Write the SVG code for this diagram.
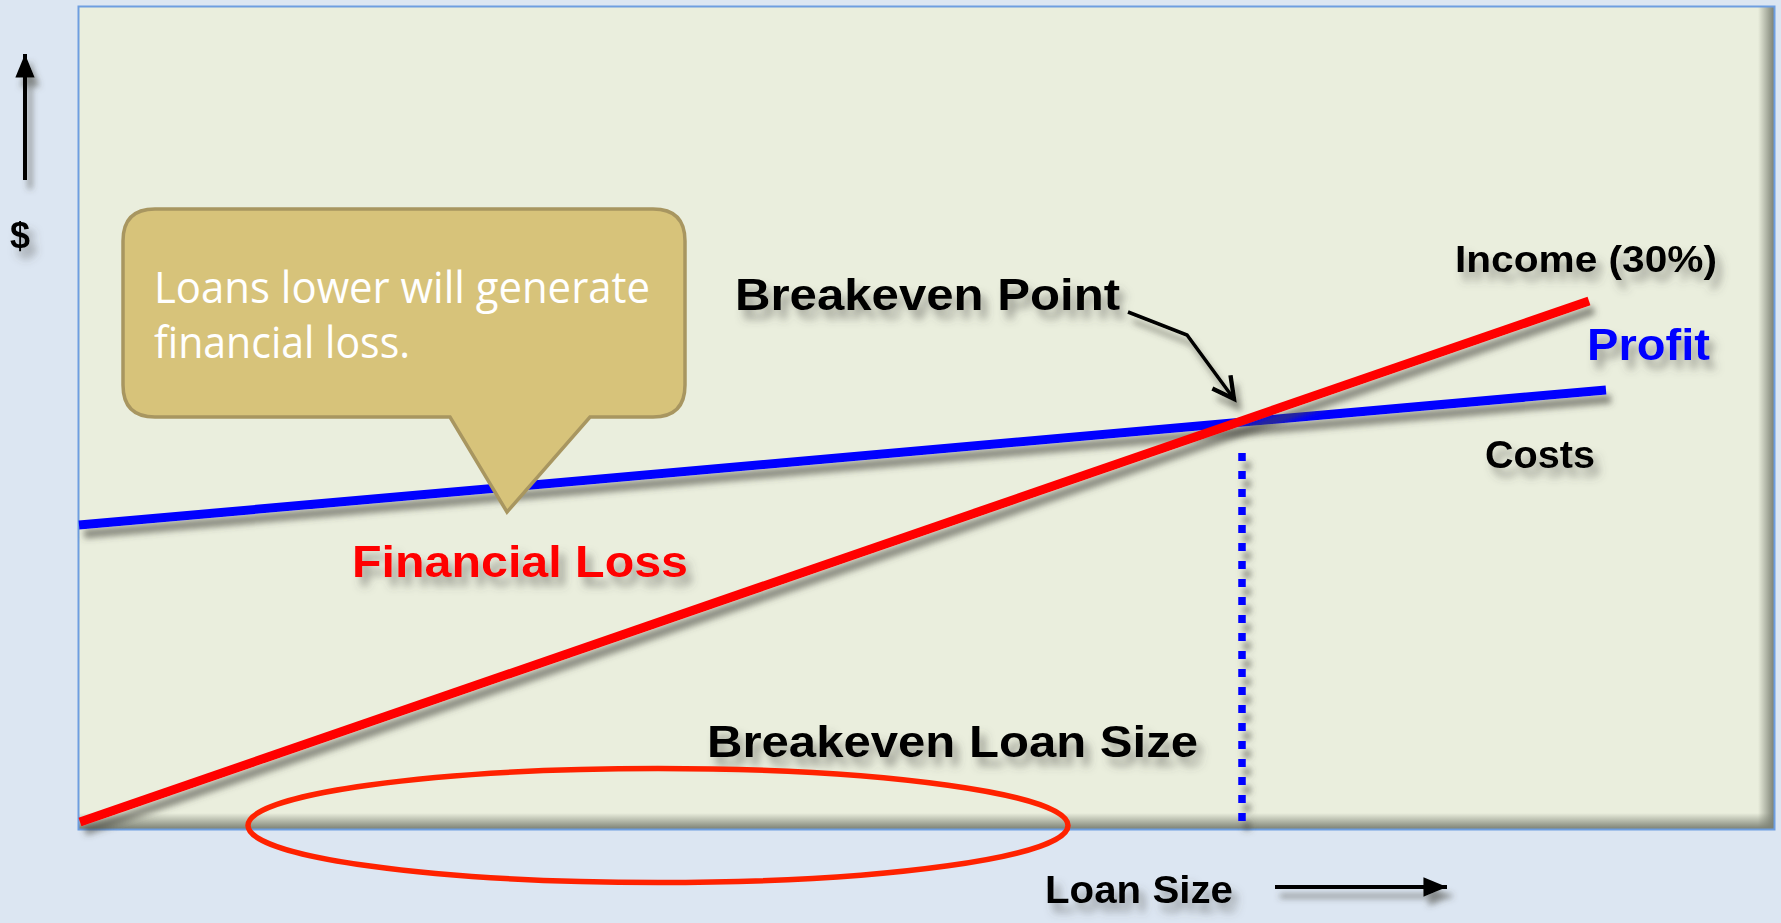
<svg xmlns="http://www.w3.org/2000/svg" width="1781" height="923" viewBox="0 0 1781 923">
  <style>
    .lbl { font-family: "Liberation Sans", Arial, sans-serif; font-weight: bold; fill: #000; }
    .callout-text { font-family: "Open Sans", "Noto Sans", sans-serif; fill: #FFFFFF; font-size: 44px; }
    .sh { filter: url(#shadow); }
    .tsh { filter: url(#tshadow); }
  </style>
  <defs>
    <filter id="shadow" filterUnits="userSpaceOnUse" x="0" y="0" width="1781" height="923">
      <feDropShadow dx="5" dy="9" stdDeviation="3" flood-color="#4a4a40" flood-opacity="0.6"/>
    </filter>
    <filter id="tshadow" filterUnits="userSpaceOnUse" x="0" y="0" width="1781" height="923">
      <feDropShadow dx="6" dy="9" stdDeviation="4" flood-color="#505048" flood-opacity="0.5"/>
    </filter>
    <linearGradient id="gRight" x1="0" y1="0" x2="1" y2="0">
      <stop offset="0" stop-color="#7c8174" stop-opacity="0"/>
      <stop offset="1" stop-color="#7c8174" stop-opacity="1"/>
    </linearGradient>
    <linearGradient id="gBottom" x1="0" y1="0" x2="0" y2="1">
      <stop offset="0" stop-color="#7c8174" stop-opacity="0"/>
      <stop offset="1" stop-color="#7c8174" stop-opacity="1"/>
    </linearGradient>
    <marker id="openHead" markerUnits="userSpaceOnUse" markerWidth="30" markerHeight="30" viewBox="-20 -12 24 24" refX="0" refY="0" orient="auto">
      <path d="M-17,-9 L0,0 L-17,9" fill="none" stroke="#000" stroke-width="3.5" stroke-linejoin="miter"/>
    </marker>
    <marker id="solidHead" markerUnits="userSpaceOnUse" markerWidth="30" markerHeight="30" viewBox="-26 -12 28 24" refX="0" refY="0" orient="auto">
      <path d="M-22,-9 L0,0 L-22,9 Z" fill="#000"/>
    </marker>
  </defs>

  <!-- background -->
  <rect x="0" y="0" width="1781" height="923" fill="#DCE6F2"/>

  <!-- chart area -->
  <g id="chart-area">
    <rect x="78.5" y="6.5" width="1696" height="823" fill="#EAEEDD"/>
    <rect x="1758" y="7" width="16" height="822" fill="url(#gRight)"/>
    <rect x="79" y="813" width="1695" height="16" fill="url(#gBottom)"/>
    <rect x="78.5" y="6.5" width="1696" height="823" fill="none" stroke="#6E9EE0" stroke-width="2"/>
  </g>

  <!-- y axis -->
  <g id="y-axis">
    <line class="sh" x1="25" y1="180" x2="25" y2="54" stroke="#000" stroke-width="4" marker-end="url(#solidHead)"/>
    <text class="lbl tsh" x="10" y="248" font-size="36">$</text>
  </g>

  <!-- cost line (blue) -->
  <g id="costs-line">
    <line class="sh" x1="79" y1="525" x2="1606" y2="390" stroke="#0000FF" stroke-width="9"/>
  </g>

  <!-- breakeven dashed -->
  <g id="breakeven-dashed">
    <line class="sh" x1="1242" y1="453" x2="1242" y2="824" stroke="#0000FF" stroke-width="7.5" stroke-dasharray="8 10"/>
  </g>

  <!-- income line (red) -->
  <g id="income-line">
    <line class="sh" x1="80" y1="822" x2="1589" y2="301" stroke="#FF0000" stroke-width="9"/>
  </g>

  <!-- callout -->
  <g id="callout">
    <path d="M155,209 L653,209 Q685,209 685,241 L685,385 Q685,417 653,417 L590,417 L507,512 L450,417 L155,417 Q123,417 123,385 L123,241 Q123,209 155,209 Z" fill="#D7C37A" stroke="#A89660" stroke-width="3.5" stroke-linejoin="miter"/>
    <text class="callout-text" x="154" y="303" textLength="496" lengthAdjust="spacingAndGlyphs">Loans lower will generate</text>
    <text class="callout-text" x="154" y="358" textLength="256" lengthAdjust="spacingAndGlyphs">financial loss.</text>
  </g>

  <!-- labels -->
  <g id="label-breakeven-point">
    <text class="lbl tsh" x="735" y="310" font-size="45" textLength="385" lengthAdjust="spacingAndGlyphs">Breakeven Point</text>
  </g>
  <g id="label-income">
    <text class="lbl tsh" x="1455" y="272" font-size="37" textLength="262" lengthAdjust="spacingAndGlyphs">Income (30%)</text>
  </g>
  <g id="label-profit">
    <text class="lbl tsh" x="1587" y="360" font-size="45" textLength="123" lengthAdjust="spacingAndGlyphs" style="fill:#0000FF">Profit</text>
  </g>
  <g id="label-costs">
    <text class="lbl tsh" x="1485" y="468" font-size="39" textLength="110" lengthAdjust="spacingAndGlyphs">Costs</text>
  </g>
  <g id="label-financial-loss">
    <text class="lbl tsh" x="352" y="577" font-size="44" textLength="336" lengthAdjust="spacingAndGlyphs" style="fill:#FF0000">Financial Loss</text>
  </g>
  <g id="label-breakeven-loan-size">
    <text class="lbl tsh" x="707" y="757" font-size="45" textLength="491" lengthAdjust="spacingAndGlyphs">Breakeven Loan Size</text>
  </g>
  <g id="x-axis">
    <text class="lbl tsh" x="1045" y="903" font-size="39" textLength="188" lengthAdjust="spacingAndGlyphs">Loan Size</text>
  </g>

  <!-- connectors -->
  <g id="connectors">
    <polyline class="sh" points="1128,312 1187,335 1234,399" fill="none" stroke="#000" stroke-width="3.5" marker-end="url(#openHead)"/>
    <line class="sh" x1="1275" y1="887" x2="1447" y2="887" stroke="#000" stroke-width="4" marker-end="url(#solidHead)"/>
  </g>

  <!-- highlight ellipse -->
  <g id="highlight-ellipse">
    <ellipse cx="658" cy="825.5" rx="410" ry="57" fill="none" stroke="#FF2200" stroke-width="5.5"/>
  </g>
</svg>
